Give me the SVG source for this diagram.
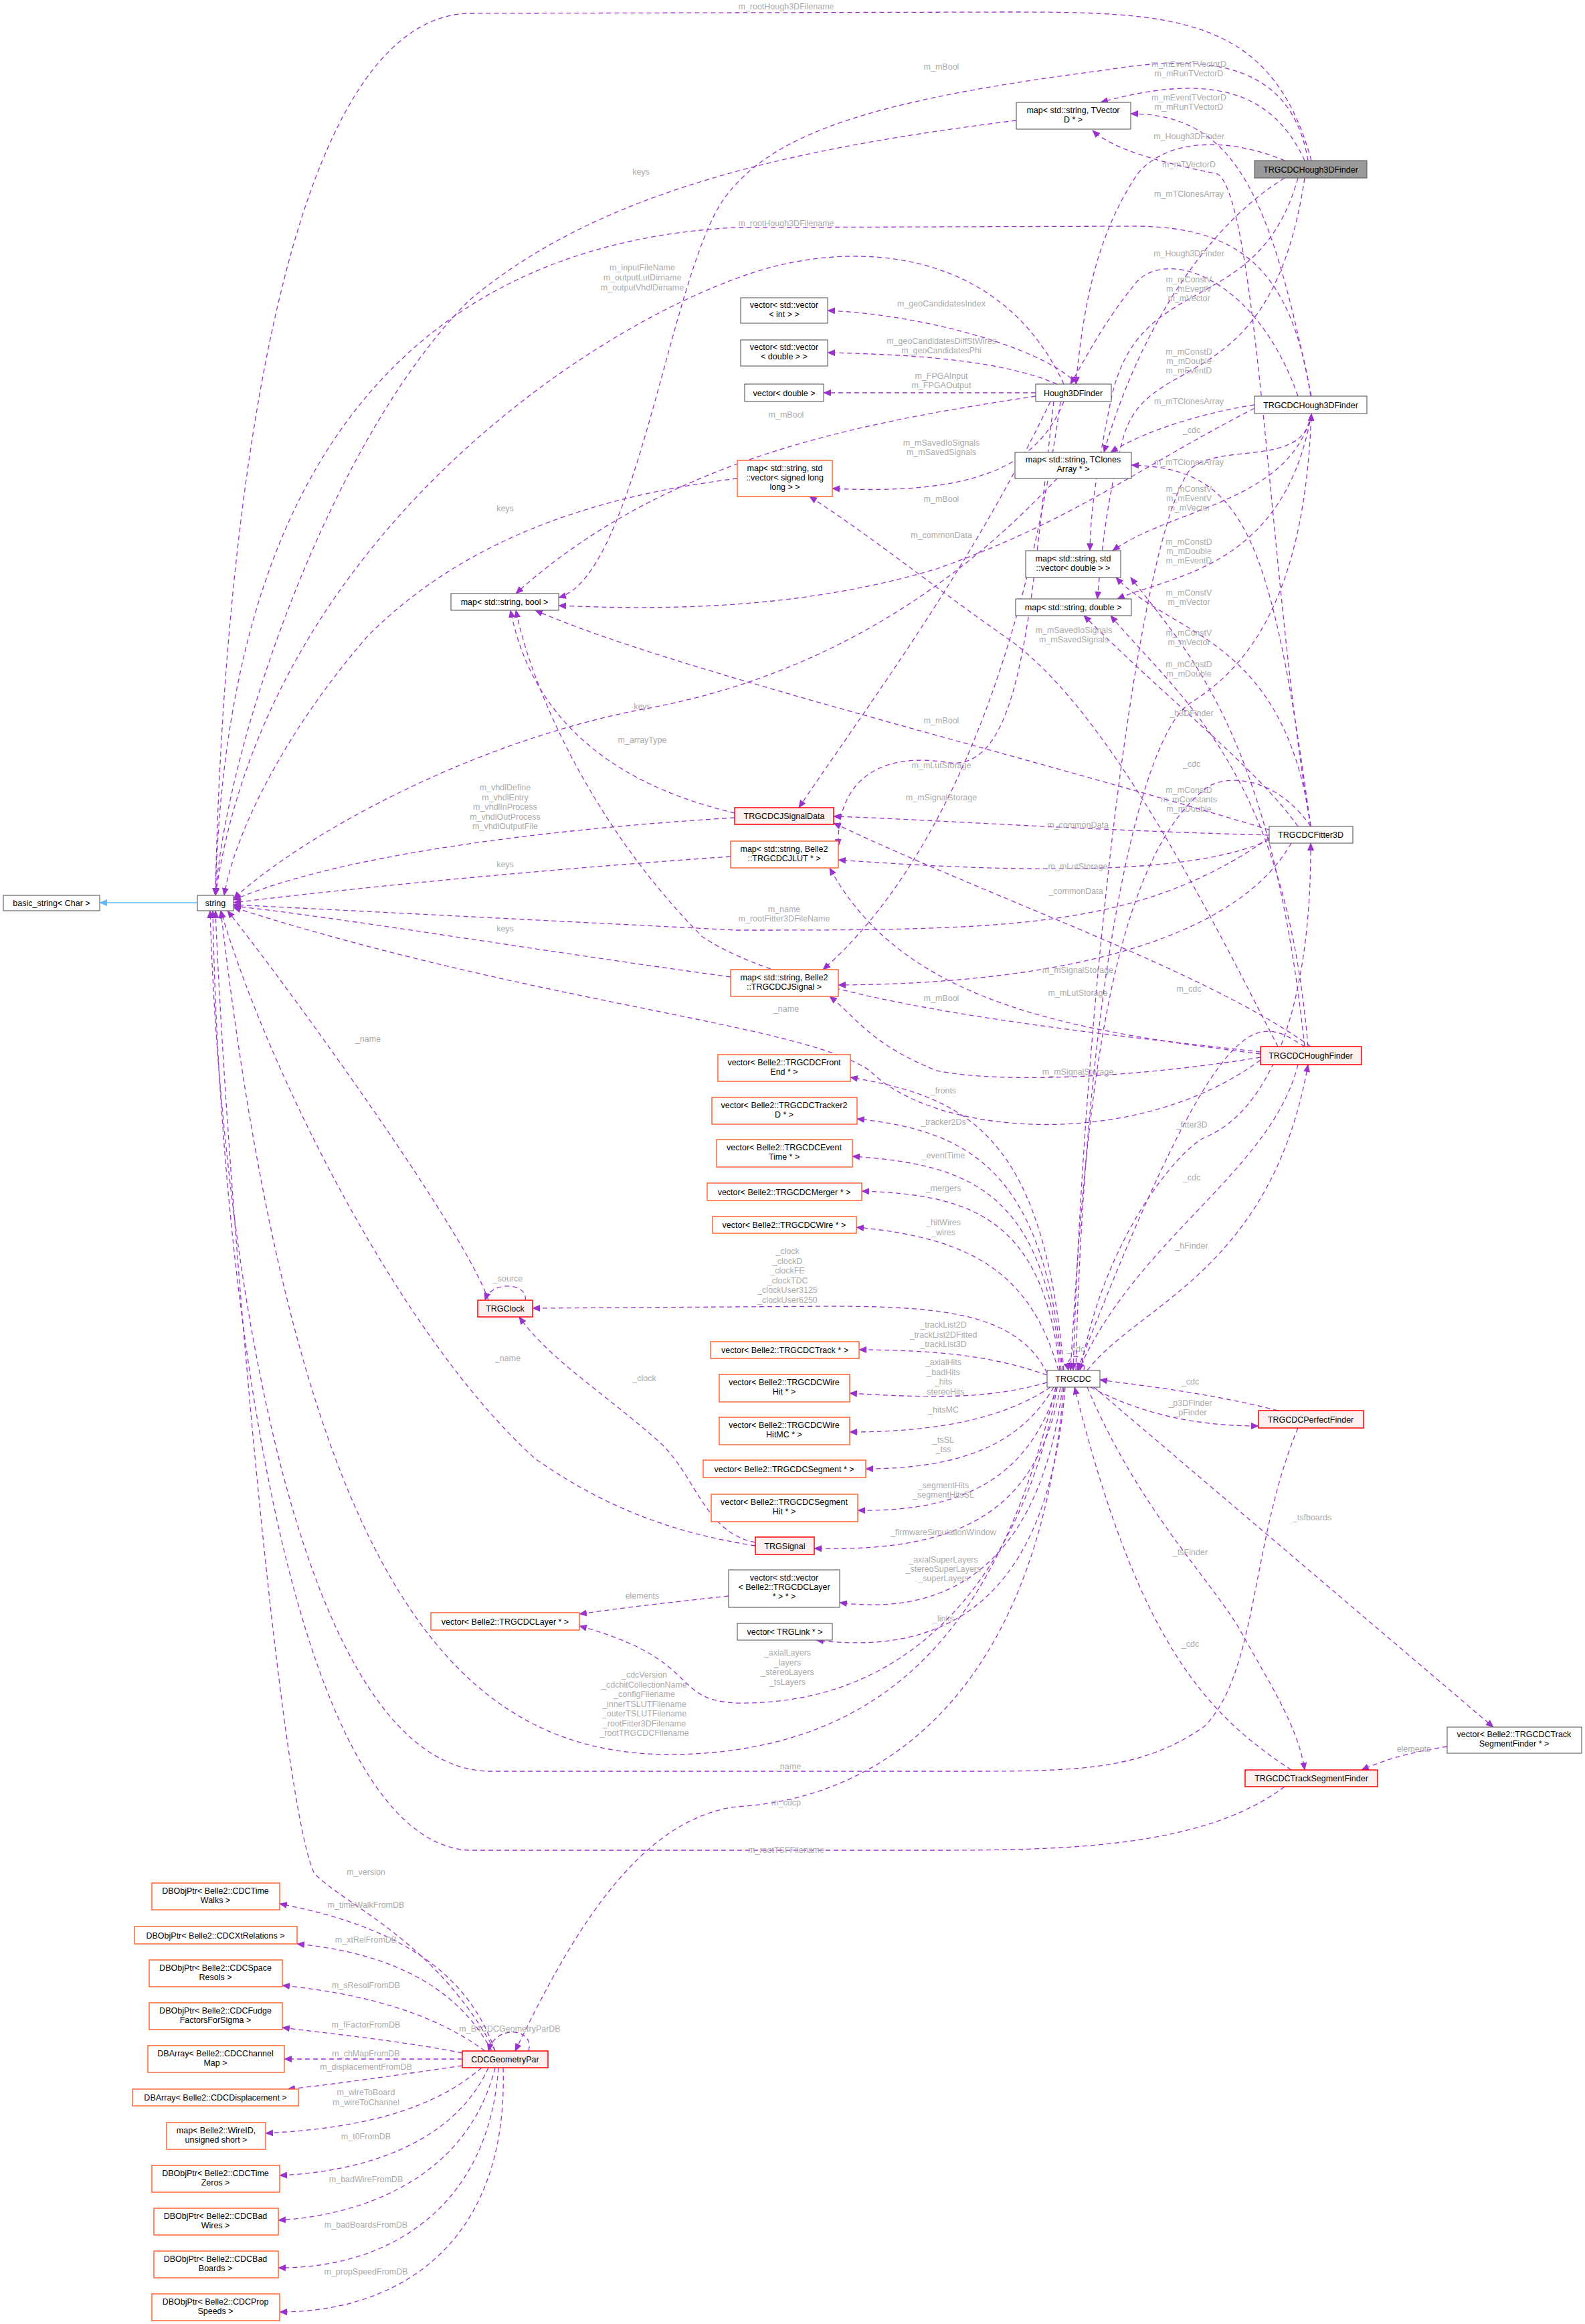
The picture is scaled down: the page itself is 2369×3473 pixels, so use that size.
<svg xmlns="http://www.w3.org/2000/svg" width="2369" height="3473" viewBox="0 0 2369 3473">
<style>
text{font-family:"Liberation Sans",Arial,sans-serif;font-size:12.5px}
.n rect{fill:#fff;stroke:#666;stroke-width:1.2}
.o rect{fill:#fff;stroke:#ff6633;stroke-width:1.5}
.r rect{fill:#fff0f0;stroke:#ff0000;stroke-width:1.5}
.g rect{fill:#999;stroke:#666;stroke-width:1.2}
.n text,.o text,.r text,.g text{fill:#000;text-anchor:middle}
.e{fill:none;stroke:#9A32CD;stroke-width:1.3;stroke-dasharray:7,5;marker-end:url(#a)}
.l{fill:#aaa;text-anchor:middle}
</style>
<defs>
<marker id="a" markerWidth="12" markerHeight="10" refX="11" refY="5" orient="auto" markerUnits="userSpaceOnUse"><path d="M0,0 L12,5 L0,10 z" fill="#9A32CD"/></marker>
<marker id="b" markerWidth="12" markerHeight="10" refX="11" refY="5" orient="auto" markerUnits="userSpaceOnUse"><path d="M0,0 L12,5 L0,10 z" fill="#63B8FF"/></marker>
</defs>
<rect width="2369" height="3473" fill="#fff"/>
<g id="connectors">
<path d="M295,1349 L149,1349" fill="none" stroke="#63B8FF" stroke-width="1.3" marker-end="url(#b)"/>
<path class="e" d="M1960,240 C1900,20 1750,18 1500,18 L700,20 C400,30 330,900 322,1338"/>
<text class="l" x="1175" y="14">m_rootHough3DFilename</text>
<path class="e" d="M1955,240 C1930,90 1800,80 1650,105 C1300,150 1150,200 1080,300 C1000,420 950,860 835,893"/>
<text class="l" x="1407" y="104">m_mBool</text>
<path class="e" d="M1950,240 C1900,130 1800,110 1645,153"/>
<text class="l" x="1777" y="100">m_mEventTVectorD<tspan x="1777" dy="14">m_mRunTVectorD</tspan></text>
<path class="e" d="M1960,592 C1900,300 1850,170 1690,170"/>
<text class="l" x="1777" y="150">m_mEventTVectorD<tspan x="1777" dy="14">m_mRunTVectorD</tspan></text>
<path class="e" d="M1920,240 C1850,210 1750,200 1700,260 C1640,350 1620,450 1608,574"/>
<text class="l" x="1777" y="208">m_Hough3DFinder</text>
<path class="e" d="M1959,1235 C1900,900 1880,300 1820,260 C1720,240 1660,220 1633,195"/>
<text class="l" x="1777" y="250">m_mTVectorD</text>
<path class="e" d="M1920,266 C1800,340 1700,500 1650,676"/>
<text class="l" x="1777" y="294">m_mTClonesArray</text>
<path class="e" d="M1959,592 C1930,400 1850,340 1700,338 L1100,340 C700,360 340,600 322,1338"/>
<text class="l" x="1175" y="338">m_rootHough3DFilename</text>
<path class="e" d="M1940,592 C1880,420 1750,370 1700,420 C1650,480 1620,540 1600,574"/>
<text class="l" x="1777" y="383">m_Hough3DFinder</text>
<path class="e" d="M1940,266 C1880,480 1700,400 1660,600 C1640,700 1630,760 1629,823"/>
<text class="l" x="1777" y="422">m_mConstV<tspan x="1777" dy="14">m_mEventV</tspan><tspan x="1777" dy="14">m_mVector</tspan></text>
<path class="e" d="M1950,266 C1900,600 1720,520 1680,650 C1650,760 1645,850 1640,895"/>
<text class="l" x="1777" y="530">m_mConstD<tspan x="1777" dy="14">m_mDouble</tspan><tspan x="1777" dy="14">m_mEventD</tspan></text>
<path class="e" d="M1875,605 C1780,620 1700,650 1660,676"/>
<text class="l" x="1777" y="604">m_mTClonesArray</text>
<path class="e" d="M1960,618 C1950,700 1830,660 1780,700 C1700,800 1620,1500 1604,2048"/>
<text class="l" x="1781" y="647">_cdc</text>
<path class="e" d="M1959,1235 C1900,800 1860,700 1691,695"/>
<text class="l" x="1777" y="695">m_mTClonesArray</text>
<path class="e" d="M1960,618 C1930,750 1750,760 1663,823"/>
<text class="l" x="1777" y="735">m_mConstV<tspan x="1777" dy="14">m_mEventV</tspan><tspan x="1777" dy="14">m_mVector</tspan></text>
<path class="e" d="M1960,618 C1920,850 1750,860 1670,895"/>
<text class="l" x="1777" y="814">m_mConstD<tspan x="1777" dy="14">m_mDouble</tspan><tspan x="1777" dy="14">m_mEventD</tspan></text>
<path class="e" d="M1959,1235 C1920,950 1750,950 1668,863"/>
<text class="l" x="1777" y="890">m_mConstV<tspan x="1777" dy="14">m_mVector</tspan></text>
<path class="e" d="M1950,1564 C1900,1100 1780,980 1690,863"/>
<text class="l" x="1777" y="950">m_mConstV<tspan x="1777" dy="14">m_mVector</tspan></text>
<path class="e" d="M1955,1564 C1920,1150 1760,1040 1660,920"/>
<text class="l" x="1777" y="997">m_mConstD<tspan x="1777" dy="14">m_mDouble</tspan></text>
<path class="e" d="M1940,1235 C1880,1150 1750,1050 1620,920"/>
<text class="l" x="1777" y="1185">m_mConstD<tspan x="1777" dy="14">m_mConstants</tspan><tspan x="1777" dy="14">m_mDouble</tspan></text>
<path class="e" d="M1590,600 C1550,700 1450,740 1244,730"/>
<text class="l" x="1407" y="666">m_mSavedIoSignals<tspan x="1407" dy="14">m_mSavedSignals</tspan></text>
<path class="e" d="M1910,1564 C1800,1350 1650,1050 1500,950 C1400,880 1300,800 1210,742"/>
<text class="l" x="1605" y="946">m_mSavedIoSignals<tspan x="1605" dy="14">m_mSavedSignals</tspan></text>
<path class="e" d="M1610,574 C1560,520 1380,470 1237,464"/>
<text class="l" x="1407" y="458">m_geoCandidatesIndex</text>
<path class="e" d="M1580,574 C1500,540 1380,530 1237,527"/>
<text class="l" x="1407" y="514">m_geoCandidatesDiffStWires<tspan x="1407" dy="14">m_geoCandidatesPhi</tspan></text>
<path class="e" d="M1548,587 L1231,587"/>
<text class="l" x="1407" y="566">m_FPGAInput<tspan x="1407" dy="14">m_FPGAOutput</tspan></text>
<path class="e" d="M1548,592 C1300,630 1000,680 771,887"/>
<text class="l" x="1175" y="624">m_mBool</text>
<path class="e" d="M1875,610 C1700,700 1600,780 1400,850 C1200,910 1000,912 835,905"/>
<text class="l" x="1407" y="750">m_mBool</text>
<path class="e" d="M1570,600 C1450,850 1300,1050 1194,1207"/>
<text class="l" x="1407" y="804">m_commonData</text>
<path class="e" d="M1590,574 C1500,380 1300,360 1150,400 C900,470 400,800 322,1338"/>
<text class="l" x="960" y="404">m_inputFileName<tspan x="960" dy="15">m_outputLutDirname</tspan><tspan x="960" dy="15">m_outputVhdlDirname</tspan></text>
<path class="e" d="M1575,600 C1540,900 1530,1150 1420,1140 C1300,1120 1250,1180 1253,1265"/>
<text class="l" x="1407" y="1148">m_mLutStorage</text>
<path class="e" d="M1585,600 C1530,1000 1400,1300 1230,1449"/>
<text class="l" x="1407" y="1196">m_mSignalStorage</text>
<path class="e" d="M1519,180 C1200,220 900,280 700,450 C500,650 340,1100 322,1338"/>
<text class="l" x="958" y="261">keys</text>
<path class="e" d="M1102,715 C900,740 700,800 550,950 C420,1100 350,1250 335,1338"/>
<text class="l" x="755" y="764">keys</text>
<path class="e" d="M1580,715 C1500,800 1300,1000 960,1060 C700,1110 450,1250 349,1343"/>
<text class="l" x="960" y="1060">keys</text>
<path class="e" d="M1098,1215 C950,1180 800,1100 763,912"/>
<text class="l" x="960" y="1110">m_arrayType</text>
<path class="e" d="M1098,1222 C800,1240 500,1280 349,1345"/>
<text class="l" x="755" y="1181">m_vhdlDefine<tspan x="755" dy="14.5">m_vhdlEntry</tspan><tspan x="755" dy="14.5">m_vhdlInProcess</tspan><tspan x="755" dy="14.5">m_vhdlOutProcess</tspan><tspan x="755" dy="14.5">m_vhdlOutputFile</tspan></text>
<path class="e" d="M1092,1280 C800,1300 500,1330 349,1349"/>
<text class="l" x="755" y="1296">keys</text>
<path class="e" d="M1092,1460 C800,1420 500,1370 349,1354"/>
<text class="l" x="755" y="1392">keys</text>
<path class="e" d="M1897,1252 C1700,1390 1500,1390 1100,1390 L349,1352"/>
<text class="l" x="1172" y="1363">m_name<tspan x="1172" dy="14">m_rootFitter3DFileName</tspan></text>
<path class="e" d="M1897,1248 C1600,1240 1400,1225 1246,1220"/>
<text class="l" x="1611" y="1237">m_commonData</text>
<path class="e" d="M1897,1255 C1800,1300 1600,1310 1253,1285"/>
<text class="l" x="1611" y="1299">m_mLutStorage</text>
<path class="e" d="M1930,1260 C1850,1400 1600,1470 1253,1472"/>
<text class="l" x="1611" y="1454">m_mSignalStorage</text>
<path class="e" d="M1897,1240 C1500,1120 1000,1000 800,912"/>
<text class="l" x="1407" y="1081">m_mBool</text>
<path class="e" d="M1959,1564 C1800,1450 1500,1350 1246,1230"/>
<text class="l" x="1608" y="1336">_commonData</text>
<path class="e" d="M1884,1575 C1600,1540 1350,1500 1240,1297"/>
<text class="l" x="1611" y="1488">m_mLutStorage</text>
<path class="e" d="M1884,1580 C1700,1610 1500,1620 1400,1600 C1300,1560 1280,1520 1240,1489"/>
<text class="l" x="1611" y="1606">m_mSignalStorage</text>
<path class="e" d="M1884,1572 C1600,1540 1200,1500 1050,1400 C900,1250 800,1050 771,912"/>
<text class="l" x="1407" y="1496">m_mBool</text>
<path class="e" d="M1884,1584 C1700,1720 1400,1700 1300,1600 C1200,1530 800,1500 349,1356"/>
<text class="l" x="1175" y="1512">_name</text>
<path class="e" d="M1959,1235 C1900,1150 1820,1160 1800,1180 C1650,1300 1620,1700 1600,2048"/>
<text class="l" x="1781" y="1146">_cdc</text>
<path class="e" d="M1608,2048 C1620,1500 1700,1100 1780,1050 C1860,1000 1950,900 1960,618"/>
<text class="l" x="1781" y="1070">_h3DFinder</text>
<path class="e" d="M1950,1564 C1880,1520 1830,1480 1610,2048"/>
<text class="l" x="1777" y="1482">m_cdc</text>
<path class="e" d="M1615,2048 C1650,1850 1760,1720 1800,1700 C1900,1660 1960,1500 1959,1260"/>
<text class="l" x="1781" y="1685">_fitter3D</text>
<path class="e" d="M1940,1591 C1900,1750 1700,1850 1612,2048"/>
<text class="l" x="1781" y="1764">_cdc</text>
<path class="e" d="M1625,2048 C1700,1950 1900,1900 1955,1591"/>
<text class="l" x="1781" y="1866">_hFinder</text>
<path class="e" d="M1590,2048 C1560,1700 1450,1640 1271,1610"/>
<text class="l" x="1410" y="1634">_fronts</text>
<path class="e" d="M1588,2048 C1560,1750 1450,1690 1281,1672"/>
<text class="l" x="1410" y="1681">_tracker2Ds</text>
<path class="e" d="M1586,2048 C1560,1780 1450,1740 1274,1728"/>
<text class="l" x="1410" y="1731">_eventTime</text>
<path class="e" d="M1584,2048 C1560,1820 1450,1785 1288,1780"/>
<text class="l" x="1410" y="1780">_mergers</text>
<path class="e" d="M1582,2048 C1540,1900 1450,1850 1280,1834"/>
<text class="l" x="1410" y="1831">_hitWires<tspan x="1410" dy="15">_wires</tspan></text>
<path class="e" d="M1565,2052 C1520,1960 1400,1953 1250,1952 L796,1955"/>
<text class="l" x="1177" y="1874">_clock<tspan x="1177" dy="14.5">_clockD</tspan><tspan x="1177" dy="14.5">_clockFE</tspan><tspan x="1177" dy="14.5">_clockTDC</tspan><tspan x="1177" dy="14.5">_clockUser3125</tspan><tspan x="1177" dy="14.5">_clockUser6250</tspan></text>
<path class="e" d="M1565,2055 C1480,2025 1400,2018 1284,2017"/>
<text class="l" x="1410" y="1984">_trackList2D<tspan x="1410" dy="14.5">_trackList2DFitted</tspan><tspan x="1410" dy="14.5">_trackList3D</tspan></text>
<path class="e" d="M1565,2066 C1480,2090 1400,2090 1270,2082"/>
<text class="l" x="1410" y="2040">_axialHits<tspan x="1410" dy="14.5">_badHits</tspan><tspan x="1410" dy="14.5">_hits</tspan><tspan x="1410" dy="14.5">_stereoHits</tspan></text>
<path class="e" d="M1570,2073 C1500,2120 1400,2140 1270,2140"/>
<text class="l" x="1410" y="2111">_hitsMC</text>
<path class="e" d="M1575,2073 C1530,2150 1450,2195 1294,2195"/>
<text class="l" x="1410" y="2156">_tsSL<tspan x="1410" dy="14">_tss</tspan></text>
<path class="e" d="M1580,2073 C1540,2200 1450,2260 1282,2257"/>
<text class="l" x="1410" y="2224">_segmentHits<tspan x="1410" dy="14">_segmentHitsSL</tspan></text>
<path class="e" d="M1585,2073 C1550,2250 1450,2320 1217,2314"/>
<text class="l" x="1410" y="2294">_firmwareSimulationWindow</text>
<path class="e" d="M1588,2073 C1560,2300 1450,2420 1255,2395"/>
<text class="l" x="1410" y="2335">_axialSuperLayers<tspan x="1410" dy="14">_stereoSuperLayers</tspan><tspan x="1410" dy="14">_superLayers</tspan></text>
<path class="e" d="M1592,2073 C1570,2350 1450,2480 1220,2451"/>
<text class="l" x="1410" y="2423">_links</text>
<path class="e" d="M1580,2073 C1540,2300 1400,2550 1100,2545 C1000,2540 1050,2480 866,2430"/>
<text class="l" x="1177" y="2474">_axialLayers<tspan x="1177" dy="14.5">_layers</tspan><tspan x="1177" dy="14.5">_stereoLayers</tspan><tspan x="1177" dy="14.5">_tsLayers</tspan></text>
<path class="e" d="M1089,2385 C1000,2395 950,2400 866,2412"/>
<text class="l" x="960" y="2389">elements</text>
<path class="e" d="M1578,2073 C1500,2400 1350,2620 1000,2622 C700,2620 450,2400 330,1361"/>
<text class="l" x="963" y="2507">_cdcVersion<tspan x="963" dy="14.5">_cdchitCollectionName</tspan><tspan x="963" dy="14.5">_configFilename</tspan><tspan x="963" dy="14.5">_innerTSLUTFilename</tspan><tspan x="963" dy="14.5">_outerTSLUTFilename</tspan><tspan x="963" dy="14.5">_rootFitter3DFilename</tspan><tspan x="963" dy="14.5">_rootTRGCDCFilename</tspan></text>
<path class="e" d="M785,1943 C790,1918 735,1912 725,1943"/>
<text class="l" x="759" y="1915">_source</text>
<path class="e" d="M1129,2305 C1050,2290 1040,2200 980,2150 C900,2080 820,2030 776,1968"/>
<text class="l" x="963" y="2064">_clock</text>
<path class="e" d="M1129,2310 C1000,2290 900,2250 800,2180 C600,2000 400,1600 330,1361"/>
<text class="l" x="759" y="2034">_name</text>
<path class="e" d="M730,1943 C700,1850 450,1500 340,1361"/>
<text class="l" x="550" y="1557">_name</text>
<path class="e" d="M1620,2048 C1625,2020 1590,2020 1597,2048"/>
<text class="l" x="1608" y="2020">_cdc</text>
<path class="e" d="M1910,2108 C1800,2080 1700,2070 1644,2062"/>
<text class="l" x="1779" y="2069">_cdc</text>
<path class="e" d="M1630,2073 C1700,2110 1780,2131 1881,2131"/>
<text class="l" x="1779" y="2101">_p3DFinder<tspan x="1779" dy="14">_pFinder</tspan></text>
<path class="e" d="M1940,2134 C1870,2300 1880,2500 1800,2580 C1700,2650 1600,2647 1400,2647 L730,2647 C450,2640 330,1900 314,1361"/>
<text class="l" x="1178" y="2644">_name</text>
<path class="e" d="M1625,2073 C1700,2250 1800,2350 1850,2430 C1900,2520 1940,2580 1950,2645"/>
<text class="l" x="1779" y="2324">_tsFinder</text>
<path class="e" d="M1930,2645 C1800,2560 1700,2450 1606,2073"/>
<text class="l" x="1779" y="2461">_cdc</text>
<path class="e" d="M1635,2073 L2232,2581"/>
<text class="l" x="1961" y="2272">_tsfboards</text>
<path class="e" d="M2163,2610 C2100,2620 2070,2630 2035,2645"/>
<text class="l" x="2113" y="2618">elements</text>
<path class="e" d="M1920,2670 C1800,2760 1600,2765 1400,2765 L700,2765 C450,2750 330,2000 318,1361"/>
<text class="l" x="1175" y="2769">m_rootTSFFilename</text>
<path class="e" d="M1590,2073 C1550,2550 1300,2690 1100,2700 C950,2720 850,2900 770,3065"/>
<text class="l" x="1175" y="2698">m_cdcp</text>
<path class="e" d="M740,3065 C650,2900 520,2850 470,2800 C420,2700 340,1800 322,1361"/>
<text class="l" x="547" y="2802">m_version</text>
<path class="e" d="M790,3065 C800,3030 740,3025 730,3065"/>
<text class="l" x="762" y="3036">m_B4CDCGeometryParDB</text>
<path class="e" d="M740,3065 C700,2950 600,2880 418,2845"/>
<text class="l" x="547" y="2851">m_timeWalkFromDB</text>
<path class="e" d="M735,3065 C690,2980 600,2920 444,2905"/>
<text class="l" x="547" y="2903">m_xtRelFromDB</text>
<path class="e" d="M725,3065 C650,3010 550,2980 422,2967"/>
<text class="l" x="547" y="2971">m_sResolFromDB</text>
<path class="e" d="M691,3068 C600,3050 500,3040 422,3030"/>
<text class="l" x="547" y="3030">m_fFactorFromDB</text>
<path class="e" d="M691,3077 L425,3077"/>
<text class="l" x="547" y="3073">m_chMapFromDB</text>
<path class="e" d="M691,3087 C600,3100 500,3115 430,3122"/>
<text class="l" x="547" y="3093">m_displacementFromDB</text>
<path class="e" d="M720,3090 C650,3150 550,3180 397,3188"/>
<text class="l" x="547" y="3131">m_wireToBoard<tspan x="547" dy="15">m_wireToChannel</tspan></text>
<path class="e" d="M730,3090 C680,3200 550,3245 418,3251"/>
<text class="l" x="547" y="3197">m_t0FromDB</text>
<path class="e" d="M740,3090 C700,3250 550,3310 416,3318"/>
<text class="l" x="547" y="3261">m_badWireFromDB</text>
<path class="e" d="M745,3090 C730,3300 580,3390 416,3389"/>
<text class="l" x="547" y="3329">m_badBoardsFromDB</text>
<path class="e" d="M752,3090 C760,3350 600,3455 418,3455"/>
<text class="l" x="547" y="3399">m_propSpeedFromDB</text>
</g>
<g id="n1" class="g"><rect x="1875" y="240" width="168" height="26"/><text x="1959" y="258">TRGCDCHough3DFinder</text></g>
<g id="tvd" class="n"><rect x="1519" y="153" width="171" height="40"/><text x="1604" y="169">map&lt; std::string, TVector<tspan x="1604" dy="14">D * &gt;</tspan></text></g>
<g id="h3d" class="n"><rect x="1548" y="574" width="113" height="26"/><text x="1604" y="592">Hough3DFinder</text></g>
<g id="wh3d" class="n"><rect x="1875" y="592" width="168" height="26"/><text x="1959" y="610">TRGCDCHough3DFinder</text></g>
<g id="vvi" class="n"><rect x="1107" y="445" width="130" height="38"/><text x="1172" y="460">vector&lt; std::vector<tspan x="1172" dy="14">&lt; int &gt; &gt;</tspan></text></g>
<g id="vvd" class="n"><rect x="1107" y="508" width="130" height="39"/><text x="1172" y="523">vector&lt; std::vector<tspan x="1172" dy="14">&lt; double &gt; &gt;</tspan></text></g>
<g id="vd" class="n"><rect x="1113" y="574" width="118" height="26"/><text x="1172" y="592">vector&lt; double &gt;</text></g>
<g id="msll" class="o"><rect x="1102" y="688" width="142" height="54"/><text x="1173" y="704">map&lt; std::string, std<tspan x="1173" dy="14">::vector&lt; signed long</tspan><tspan x="1173" dy="14">long &gt; &gt;</tspan></text></g>
<g id="mtc" class="n"><rect x="1517" y="676" width="174" height="39"/><text x="1604" y="691">map&lt; std::string, TClones<tspan x="1604" dy="14">Array * &gt;</tspan></text></g>
<g id="mvd" class="n"><rect x="1533" y="823" width="142" height="40"/><text x="1604" y="839">map&lt; std::string, std<tspan x="1604" dy="14">::vector&lt; double &gt; &gt;</tspan></text></g>
<g id="md" class="n"><rect x="1518" y="895" width="173" height="25"/><text x="1604" y="912">map&lt; std::string, double &gt;</text></g>
<g id="bs" class="n"><rect x="5" y="1338" width="144" height="23"/><text x="77" y="1354">basic_string&lt; Char &gt;</text></g>
<g id="str" class="n"><rect x="295" y="1338" width="54" height="23"/><text x="322" y="1354">string</text></g>
<g id="mb" class="n"><rect x="674" y="887" width="161" height="25"/><text x="754" y="904">map&lt; std::string, bool &gt;</text></g>
<g id="jsd" class="r"><rect x="1098" y="1207" width="148" height="25"/><text x="1172" y="1224">TRGCDCJSignalData</text></g>
<g id="jlut" class="o"><rect x="1092" y="1257" width="161" height="40"/><text x="1172" y="1273">map&lt; std::string, Belle2<tspan x="1172" dy="14">::TRGCDCJLUT * &gt;</tspan></text></g>
<g id="js" class="o"><rect x="1092" y="1449" width="161" height="40"/><text x="1172" y="1465">map&lt; std::string, Belle2<tspan x="1172" dy="14">::TRGCDCJSignal &gt;</tspan></text></g>
<g id="f3d" class="n"><rect x="1897" y="1235" width="125" height="25"/><text x="1959" y="1252">TRGCDCFitter3D</text></g>
<g id="hf" class="r"><rect x="1884" y="1564" width="151" height="27"/><text x="1959" y="1582">TRGCDCHoughFinder</text></g>
<g id="fe" class="o"><rect x="1073" y="1576" width="198" height="40"/><text x="1172" y="1592">vector&lt; Belle2::TRGCDCFront<tspan x="1172" dy="14">End * &gt;</tspan></text></g>
<g id="t2d" class="o"><rect x="1064" y="1640" width="217" height="40"/><text x="1172" y="1656">vector&lt; Belle2::TRGCDCTracker2<tspan x="1172" dy="14">D * &gt;</tspan></text></g>
<g id="et" class="o"><rect x="1071" y="1703" width="203" height="41"/><text x="1172" y="1719">vector&lt; Belle2::TRGCDCEvent<tspan x="1172" dy="14">Time * &gt;</tspan></text></g>
<g id="mg" class="o"><rect x="1057" y="1768" width="231" height="26"/><text x="1172" y="1786">vector&lt; Belle2::TRGCDCMerger * &gt;</text></g>
<g id="wr" class="o"><rect x="1065" y="1818" width="215" height="25"/><text x="1172" y="1835">vector&lt; Belle2::TRGCDCWire * &gt;</text></g>
<g id="clk" class="r"><rect x="714" y="1943" width="82" height="25"/><text x="755" y="1960">TRGClock</text></g>
<g id="trk" class="o"><rect x="1062" y="2005" width="222" height="25"/><text x="1173" y="2022">vector&lt; Belle2::TRGCDCTrack * &gt;</text></g>
<g id="wh" class="o"><rect x="1075" y="2054" width="195" height="41"/><text x="1172" y="2070">vector&lt; Belle2::TRGCDCWire<tspan x="1172" dy="14">Hit * &gt;</tspan></text></g>
<g id="whmc" class="o"><rect x="1075" y="2118" width="195" height="41"/><text x="1172" y="2134">vector&lt; Belle2::TRGCDCWire<tspan x="1172" dy="14">HitMC * &gt;</tspan></text></g>
<g id="seg" class="o"><rect x="1051" y="2182" width="243" height="26"/><text x="1172" y="2200">vector&lt; Belle2::TRGCDCSegment * &gt;</text></g>
<g id="segh" class="o"><rect x="1063" y="2233" width="219" height="41"/><text x="1172" y="2249">vector&lt; Belle2::TRGCDCSegment<tspan x="1172" dy="14">Hit * &gt;</tspan></text></g>
<g id="sig" class="r"><rect x="1129" y="2297" width="88" height="26"/><text x="1173" y="2315">TRGSignal</text></g>
<g id="vvl" class="n"><rect x="1089" y="2346" width="166" height="56"/><text x="1172" y="2362">vector&lt; std::vector<tspan x="1172" dy="14">&lt; Belle2::TRGCDCLayer</tspan><tspan x="1172" dy="14">* &gt; * &gt;</tspan></text></g>
<g id="lnk" class="n"><rect x="1102" y="2426" width="142" height="25"/><text x="1173" y="2443">vector&lt; TRGLink * &gt;</text></g>
<g id="vl" class="o"><rect x="644" y="2410" width="222" height="26"/><text x="755" y="2428">vector&lt; Belle2::TRGCDCLayer * &gt;</text></g>
<g id="cdc" class="n"><rect x="1565" y="2048" width="79" height="25"/><text x="1604" y="2065">TRGCDC</text></g>
<g id="pf" class="r"><rect x="1881" y="2108" width="157" height="26"/><text x="1959" y="2126">TRGCDCPerfectFinder</text></g>
<g id="tsf" class="r"><rect x="1861" y="2645" width="198" height="25"/><text x="1960" y="2662">TRGCDCTrackSegmentFinder</text></g>
<g id="vtsf" class="n"><rect x="2163" y="2581" width="201" height="39"/><text x="2263" y="2596">vector&lt; Belle2::TRGCDCTrack<tspan x="2263" dy="14">SegmentFinder * &gt;</tspan></text></g>
<g id="gp" class="r"><rect x="691" y="3065" width="128" height="25"/><text x="755" y="3082">CDCGeometryPar</text></g>
<g id="tw" class="o"><rect x="227" y="2814" width="191" height="40"/><text x="322" y="2830">DBObjPtr&lt; Belle2::CDCTime<tspan x="322" dy="14">Walks &gt;</tspan></text></g>
<g id="xt" class="o"><rect x="201" y="2879" width="243" height="26"/><text x="322" y="2897">DBObjPtr&lt; Belle2::CDCXtRelations &gt;</text></g>
<g id="sr" class="o"><rect x="223" y="2929" width="199" height="40"/><text x="322" y="2945">DBObjPtr&lt; Belle2::CDCSpace<tspan x="322" dy="14">Resols &gt;</tspan></text></g>
<g id="ff" class="o"><rect x="223" y="2993" width="199" height="40"/><text x="322" y="3009">DBObjPtr&lt; Belle2::CDCFudge<tspan x="322" dy="14">FactorsForSigma &gt;</tspan></text></g>
<g id="cm" class="o"><rect x="221" y="3057" width="204" height="40"/><text x="322" y="3073">DBArray&lt; Belle2::CDCChannel<tspan x="322" dy="14">Map &gt;</tspan></text></g>
<g id="dp" class="o"><rect x="198" y="3122" width="248" height="25"/><text x="322" y="3139">DBArray&lt; Belle2::CDCDisplacement &gt;</text></g>
<g id="wid" class="o"><rect x="249" y="3172" width="148" height="40"/><text x="323" y="3188">map&lt; Belle2::WireID,<tspan x="323" dy="14">unsigned short &gt;</tspan></text></g>
<g id="tz" class="o"><rect x="227" y="3236" width="191" height="40"/><text x="322" y="3252">DBObjPtr&lt; Belle2::CDCTime<tspan x="322" dy="14">Zeros &gt;</tspan></text></g>
<g id="bw" class="o"><rect x="230" y="3300" width="186" height="40"/><text x="322" y="3316">DBObjPtr&lt; Belle2::CDCBad<tspan x="322" dy="14">Wires &gt;</tspan></text></g>
<g id="bb" class="o"><rect x="230" y="3364" width="186" height="40"/><text x="322" y="3380">DBObjPtr&lt; Belle2::CDCBad<tspan x="322" dy="14">Boards &gt;</tspan></text></g>
<g id="ps" class="o"><rect x="227" y="3428" width="191" height="40"/><text x="322" y="3444">DBObjPtr&lt; Belle2::CDCProp<tspan x="322" dy="14">Speeds &gt;</tspan></text></g>
</svg>
